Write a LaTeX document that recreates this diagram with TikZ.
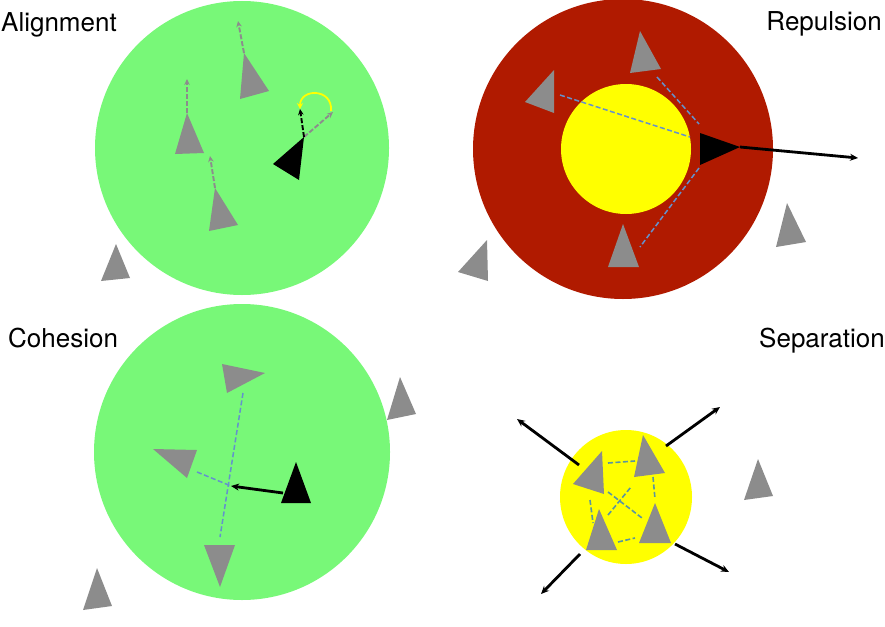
\documentclass[tikz,border=0pt]{standalone}
\usepackage{fontspec}
\setmainfont{TeX Gyre Heros}
\usetikzlibrary{arrows.meta}
\definecolor{fgreen}{RGB}{120,248,120}
\definecolor{fred}{RGB}{176,26,0}
\definecolor{fyellow}{RGB}{255,255,0}
\definecolor{bgray}{RGB}{140,140,140}
\definecolor{dblue}{RGB}{100,145,205}
\definecolor{dteal}{RGB}{90,150,160}
\tikzset{
  boid/.style={fill=bgray},
  leader/.style={fill=black},
  lbl/.style={inner sep=0pt,font=\fontsize{26}{31}\selectfont},
  grayarrow/.style={draw=bgray,line width=1.9pt,dash pattern=on 5pt off 2pt,-{Stealth[length=6pt,width=5.5pt]}},
  blackdash/.style={draw=black,line width=1.9pt,dash pattern=on 5pt off 2pt,-{Stealth[length=6pt,width=5.5pt]}},
  force/.style={draw=black,line width=2.8pt,-{Stealth[length=8pt,width=7pt]}},
  link/.style={draw=dblue,line width=1.5pt,dash pattern=on 5pt off 2.5pt},
  slink/.style={draw=dteal,line width=1.6pt,dash pattern=on 5pt off 2.5pt},
}
\begin{document}
\begin{tikzpicture}[x=1pt,y=-1pt]
\useasboundingbox (0,0) rectangle (885,626);
% ---------------- Alignment ----------------
\fill[fgreen] (242,148) circle (147);
\node[lbl,anchor=base west] (talign) at (1,32) {Alignment};
\fill[boid] (244,53) -- (269,91) -- (240,99) -- cycle;
\fill[boid] (187,113) -- (204,153) -- (175,154) -- cycle;
\fill[boid] (215,188) -- (238,225) -- (209,231) -- cycle;
\fill[boid] (116,244) -- (130,278) -- (101,281) -- cycle;
\fill[leader] (304,137) -- (299,180) -- (273,164) -- cycle;
\coordinate (a1) at (244,53);  \coordinate (a1h) at (238,21);
\coordinate (a2) at (187,113); \coordinate (a2h) at (187,79);
\coordinate (a3) at (215,188); \coordinate (a3h) at (210,156);
\coordinate (al) at (304,137); \coordinate (alg) at (333,112); \coordinate (alb) at (300,109);
\draw[grayarrow] (a1) -- (a1h);
\draw[grayarrow] (a2) -- (a2h);
\draw[grayarrow] (a3) -- (a3h);
\draw[grayarrow] (al) -- (alg);
\draw[blackdash] (al) -- (alb);
\draw[fyellow,line width=1.8pt,-{Stealth[length=6pt,width=6pt]}] (331,111) .. controls (333,88) and (300,88) .. (alb);
% ---------------- Repulsion ----------------
\fill[fred] (623,149) circle (150);
\fill[fyellow] (626,149) circle (65);
\node[lbl,anchor=base east] (trep) at (882,31) {Repulsion};
\fill[boid] (640,31) -- (661,69) -- (630,73) -- cycle;
\fill[boid] (554,70) -- (554,113) -- (525,102) -- cycle;
\fill[boid] (623,224) -- (639,267) -- (608,267) -- cycle;
\fill[boid] (787,203) -- (806,242) -- (776,247) -- cycle;
\fill[boid] (487,240) -- (488,281) -- (458,272) -- cycle;
\fill[leader] (700,133) -- (740,147) -- (700,165) -- cycle;
\coordinate (r1a) at (560,95);  \coordinate (r1b) at (690,137);
\coordinate (r2a) at (657,77);  \coordinate (r2b) at (699,124);
\coordinate (r3a) at (699,168); \coordinate (r3b) at (640,247);
\coordinate (rl) at (740,147);  \coordinate (rlh) at (858,158);
\draw[link] (r1a) -- (r1b);
\draw[link] (r2a) -- (r2b);
\draw[link] (r3a) -- (r3b);
\draw[force] (rl) -- (rlh);
% ---------------- Cohesion ----------------
\fill[fgreen] (242,452) circle (148);
\node[lbl,anchor=base west] (tcoh) at (8,347) {Cohesion};
\fill[boid] (222,364) -- (265,373) -- (227,393) -- cycle;
\fill[boid] (153,449) -- (197,450) -- (187,478) -- cycle;
\fill[boid] (204,545) -- (235,545) -- (220,587) -- cycle;
\fill[boid] (400,377) -- (416,414) -- (387,420) -- cycle;
\fill[boid] (97,568) -- (112,606) -- (83,610) -- cycle;
\fill[leader] (296,462) -- (311,503) -- (281,503) -- cycle;
\coordinate (c1a) at (243,393); \coordinate (c1b) at (220,537);
\coordinate (c2a) at (197,472); \coordinate (cc) at (231,486);
\coordinate (cl) at (283,493);
\draw[link] (c1a) -- (c1b);
\draw[link] (c2a) -- (cc);
\draw[force] (cl) -- (cc);
% ---------------- Separation ----------------
\fill[fyellow] (626,497) ellipse (66 and 67);
\node[lbl,anchor=base east] (tsep) at (885,347) {Separation};
\coordinate (s1a) at (608,463); \coordinate (s1b) at (635,461);
\coordinate (s2a) at (653,477); \coordinate (s2b) at (655,499);
\coordinate (s3a) at (590,500); \coordinate (s3b) at (593,523);
\coordinate (s4a) at (618,542); \coordinate (s4b) at (635,538);
\coordinate (s5a) at (608,492); \coordinate (s5b) at (642,518);
\coordinate (s6a) at (608,515); \coordinate (s6b) at (631,487);
\draw[slink] (s1a) -- (s1b);
\draw[slink] (s2a) -- (s2b);
\draw[slink] (s3a) -- (s3b);
\draw[slink] (s4a) -- (s4b);
\draw[slink] (s5a) -- (s5b);
\draw[slink] (s6a) -- (s6b);
\fill[boid] (602,451) -- (604,494) -- (573,484) -- cycle;
\fill[boid] (643,435) -- (665,473) -- (634,477) -- cycle;
\fill[boid] (655,503) -- (671,543) -- (639,543) -- cycle;
\fill[boid] (599,509) -- (617,550) -- (586,550) -- cycle;
\fill[boid] (758,459) -- (773,496) -- (744,500) -- cycle;
\coordinate (f1a) at (579,465); \coordinate (f1b) at (517,419);
\coordinate (f2a) at (666,446); \coordinate (f2b) at (720,407);
\coordinate (f3a) at (675,544); \coordinate (f3b) at (729,572);
\coordinate (f4a) at (580,554); \coordinate (f4b) at (541,594);
\draw[force] (f1a) -- (f1b);
\draw[force] (f2a) -- (f2b);
\draw[force] (f3a) -- (f3b);
\draw[force] (f4a) -- (f4b);
\end{tikzpicture}
\end{document}
